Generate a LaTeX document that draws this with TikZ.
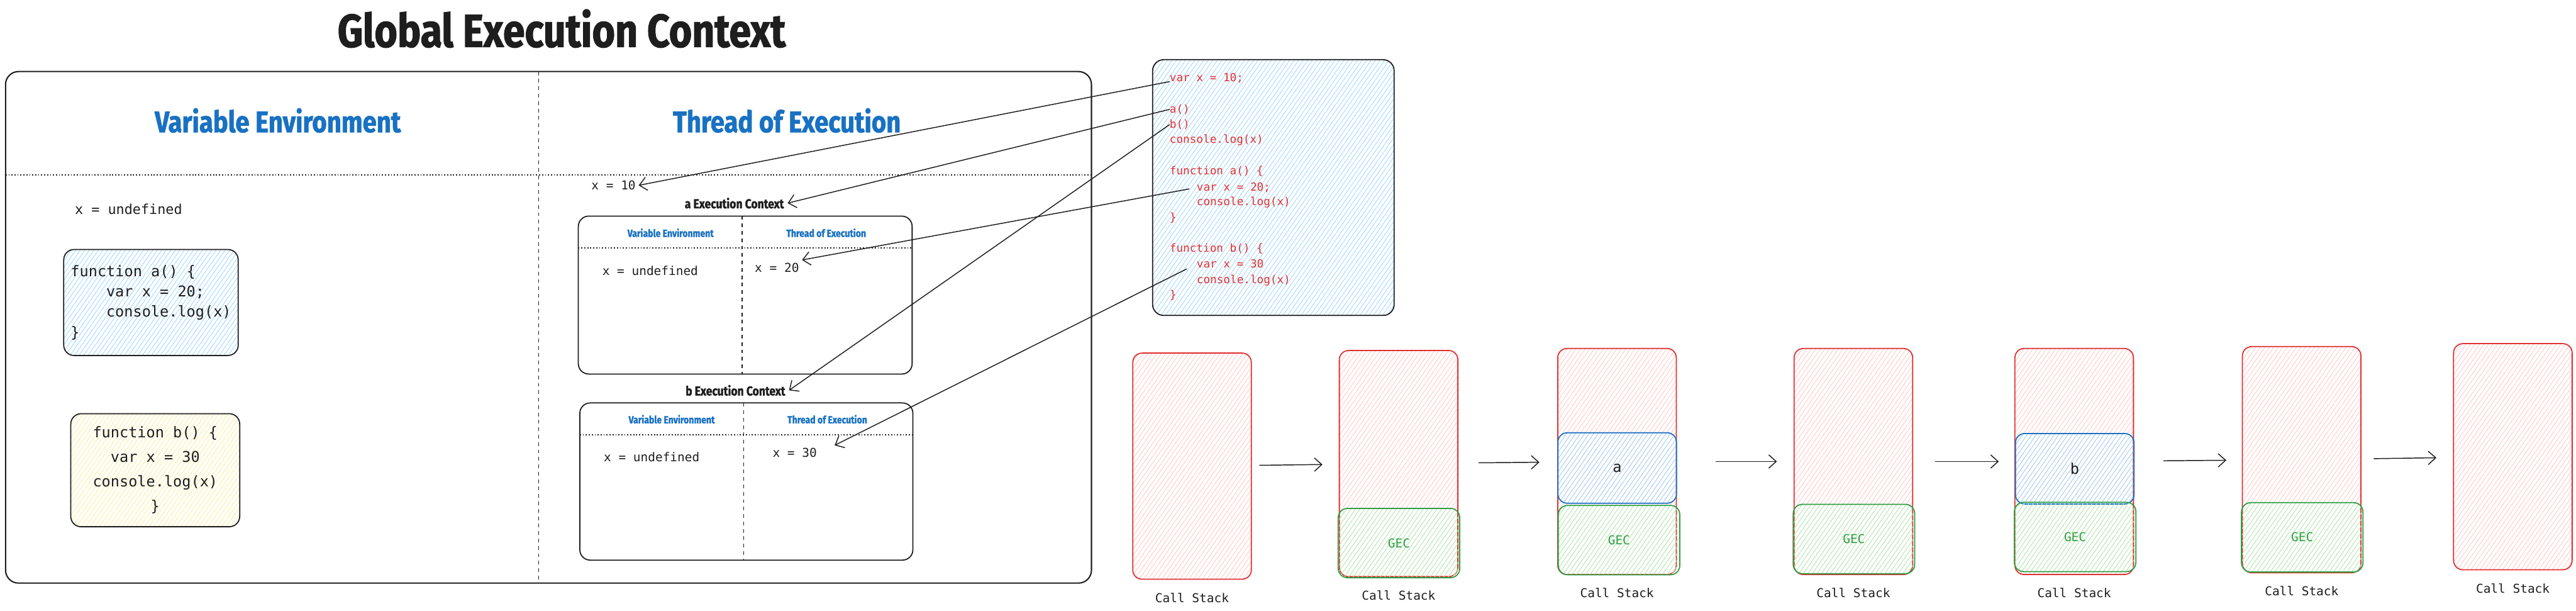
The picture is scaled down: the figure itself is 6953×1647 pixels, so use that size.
\documentclass[tikz,border=0pt]{standalone}
\usepackage{fontspec}
\setmainfont{Fira Sans}
\setmonofont{DejaVu Sans Mono}
\newfontfamily\heavyfont{Fira Sans}[FakeStretch=0.85, BoldFeatures={FakeBold=1.5}]
\usetikzlibrary{positioning,arrows.meta,patterns.meta}

\definecolor{exblue}{HTML}{1971C2}
\definecolor{exred}{HTML}{E03131}
\definecolor{exgreen}{HTML}{2F9E44}
\definecolor{hatchblue}{HTML}{A5D8FF}
\definecolor{hatchred}{HTML}{FFC9C9}
\definecolor{hatchgreen}{HTML}{B2F2BB}
\definecolor{hatchyellow}{HTML}{FFEC99}
\definecolor{ink}{HTML}{1E1E1E}

\newcommand{\setfs}[2]{\fontsize{#1}{#2}\selectfont}

\tikzstyle{panel} = [rectangle, draw=ink, line width=3pt, rounded corners=28pt, inner sep=0pt]
\tikzstyle{hatch} = [pattern={Lines[angle=55,distance=10pt,line width=1.6pt]}]
\tikzstyle{fnbox} = [panel, hatch, align=left, font=\setfs{40}{55}\ttfamily, text=ink]
\tikzstyle{codeline} = [anchor=west, inner sep=0pt, text=exred, font=\setfs{30}{36}\ttfamily]
\tikzstyle{val} = [inner sep=8pt, text=ink, font=\setfs{33}{40}\ttfamily]
\tikzstyle{bighead} = [text=exblue, font=\heavyfont\setfs{80}{84}\bfseries]
\tikzstyle{smallhead} = [text=exblue, font=\heavyfont\setfs{28}{32}\bfseries]
\tikzstyle{ectitle} = [inner sep=10pt, text=ink, font=\heavyfont\setfs{35}{40}\bfseries]
\tikzstyle{divider} = [draw=ink, line width=2pt, dash pattern=on 10pt off 10pt]
\tikzstyle{rule} = [draw=ink, line width=3pt, dash pattern=on 3pt off 5pt]
\tikzstyle{stack} = [rectangle, draw=exred, line width=3pt, rounded corners=25pt, hatch, pattern color=hatchred, minimum width=320pt, minimum height=610pt, inner sep=0pt]
\tikzstyle{gecbox} = [rectangle, draw=exgreen, line width=3pt, rounded corners=25pt, hatch, pattern color=hatchgreen, minimum width=328pt, minimum height=187pt, text=exgreen, font=\setfs{33}{40}\ttfamily]
\tikzstyle{fnframe} = [rectangle, draw=exblue, line width=3pt, rounded corners=25pt, hatch, pattern color=hatchblue, minimum width=320pt, minimum height=190pt, text=ink, font=\setfs{40}{44}\ttfamily]
\tikzstyle{stacklabel} = [text=ink, font=\setfs{33}{40}\ttfamily]
\tikzstyle{line} = [draw=ink, line width=2.5pt, -{Straight Barb[length=20pt,width=36pt]}]

\begin{document}
\begin{tikzpicture}[x=1pt, y=-1pt, node distance=30pt]
		\useasboundingbox (0,0) rectangle (6953,1647);
		
		\node [font=\heavyfont\setfs{125}{130}\bfseries, text=ink] (title) at (1516,77) {Global Execution Context};
		
		% global execution context
		\node [panel, minimum width=2931pt, minimum height=1380pt, rounded corners=35pt, line width=3.5pt] (gec) at (1480.5,883) {};
		\draw [divider] (1454,193) -- (1454,1566);
		\draw [rule] (15,472) -- (2946,472);
		\node [bighead] (gecve) at (750,325) {Variable Environment};
		\node [bighead] (gecte) at (2124,325) {Thread of Execution};
		\node [val, font=\setfs{37}{44}\ttfamily] (xundef) at (347,565) {x = undefined};
		\node [fnbox, pattern color=hatchblue, minimum width=471pt, minimum height=286pt] (fna) at (407.5,816) {function a() \{\\\hspace*{96pt}var x = 20;\\\hspace*{96pt}console.log(x)\\\}};
		\node [fnbox, pattern color=hatchyellow, align=center, minimum width=456pt, minimum height=305pt, font=\setfs{40}{66}\ttfamily] (fnb) at (419,1268.5) {function b() \{\\var x = 30\\console.log(x)\\\}};
		\node [val] (x10) at (1656,500) {x = 10};
		
		% a execution context
		\node [ectitle] (atitle) at (1982,548) {a Execution Context};
		\node [panel, minimum width=901pt, minimum height=426pt] (aec) at (2011.5,796) {};
		\draw [divider] (2003,583) -- (2003,1009);
		\draw [rule] (1561,669) -- (2462,669);
		\node [smallhead] (aecve) at (1810,628) {Variable Environment};
		\node [smallhead] (aecte) at (2230,628) {Thread of Execution};
		\node [val] (aundef) at (1755,730) {x = undefined};
		\node [val] (x20) at (2097,722) {x = 20};
		
		% b execution context
		\node [ectitle] (btitle) at (1985,1053) {b Execution Context};
		\node [panel, minimum width=899pt, minimum height=424pt] (bec) at (2014.5,1299) {};
		\draw [divider] (2007,1087) -- (2007,1511);
		\draw [rule] (1565,1173) -- (2464,1173);
		\node [smallhead] (becve) at (1813,1131) {Variable Environment};
		\node [smallhead] (becte) at (2233,1131) {Thread of Execution};
		\node [val] (bundef) at (1759,1233) {x = undefined};
		\node [val] (x30) at (2145,1222) {x = 30};
		
		% source code
		\node [panel, hatch, pattern color=hatchblue, minimum width=652pt, minimum height=690pt, rounded corners=30pt] (code) at (3437,506) {};
		\node [codeline] (cl1) at (3157,211) {var x = 10;};
		\node [codeline] (cl2) at (3157,295) {a()};
		\node [codeline] (cl3) at (3157,336) {b()};
		\node [codeline] (cl4) at (3157,378) {console.log(x)};
		\node [codeline] (cl5) at (3157,462) {function a() \{};
		\node [codeline] (cl6) at (3230,506) {var x = 20;};
		\node [codeline] (cl7) at (3230,546) {console.log(x)};
		\node [codeline] (cl8) at (3157,587) {\}};
		\node [codeline] (cl9) at (3157,671) {function b() \{};
		\node [codeline] (cl10) at (3230,712) {var x = 30};
		\node [codeline] (cl11) at (3230,756) {console.log(x)};
		\node [codeline] (cl12) at (3157,796) {\}};
		
		\path [line] (cl1.base west) -- (x10.east);
		\path [line] (cl2.west) -- (atitle.east);
		\path [line] (cl3.west) -- (btitle.east);
		\path [line, shorten <=20pt] (cl6.west) -- (x20.north east);
		\path [line, shorten <=30pt] (cl10.west) -- ([xshift=40pt]x30.north east);
		
		% call stacks
		\node [stack] (s1) at (3217.5,1257.5) {};
		\node [stack] (s2) at (3775,1250.5) {};
		\node [gecbox] (g2) at (3776,1465) {GEC};
		\node [stack] (s3) at (4364.5,1245) {};
		\node [fnframe] (fa) at (4365,1262.5) {a};
		\node [gecbox] (g3) at (4370,1457) {GEC};
		\node [stack] (s4) at (5002.5,1245) {};
		\node [gecbox] (g4) at (5004,1454) {GEC};
		\node [stack] (s5) at (5598.5,1245) {};
		\node [fnframe] (fb) at (5600,1264.5) {b};
		\node [gecbox] (g5) at (5601,1448.5) {GEC};
		\node [stack] (s6) at (6212.5,1240) {};
		\node [gecbox] (g6) at (6214,1449.5) {GEC};
		\node [stack] (s7) at (6782.5,1232) {};
		
		\node [stacklabel, below=32pt of s1] (l1) {Call Stack};
		\node [stacklabel, below=32pt of s2] (l2) {Call Stack};
		\node [stacklabel, below=32pt of s3] (l3) {Call Stack};
		\node [stacklabel, below=32pt of s4] (l4) {Call Stack};
		\node [stacklabel, below=32pt of s5] (l5) {Call Stack};
		\node [stacklabel, below=32pt of s6] (l6) {Call Stack};
		\node [stacklabel, below=32pt of s7] (l7) {Call Stack};
		
		\path [line, shorten <=20pt, shorten >=44pt] (s1) -- (s2);
		\path [line, shorten <=54pt, shorten >=48pt] (s2) -- (s3);
		\path [line, shorten <=104pt, shorten >=45pt] (s3) -- (s4);
		\path [line, shorten <=60pt, shorten >=42pt] (s4) -- (s5);
		\path [line, shorten <=79pt, shorten >=42pt] (s5) -- (s6);
		\path [line, shorten <=33pt, shorten >=45pt] (s6) -- (s7);
\end{tikzpicture}
\end{document}
